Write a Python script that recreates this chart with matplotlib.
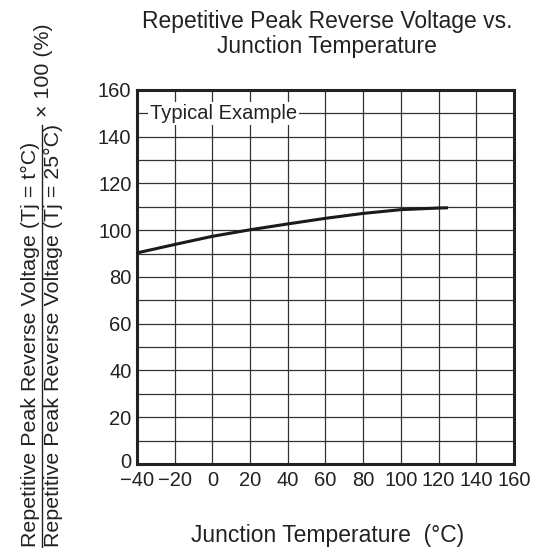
import matplotlib
matplotlib.use('Agg')
import matplotlib.pyplot as plt
from matplotlib.lines import Line2D
from matplotlib.transforms import ScaledTranslation

plt.rcParams['font.family'] = ['Liberation Sans', 'DejaVu Sans']
plt.rcParams['axes.unicode_minus'] = True

temp = [-40, -20, 0, 20, 40, 60, 80, 100, 120, 125]
ratio = [90.3, 93.9, 97.4, 100.2, 102.7, 105.1, 107.2, 108.8, 109.5, 109.6]

xticks = [-40, -20, 0, 20, 40, 60, 80, 100, 120, 140, 160]
yticks = [0, 20, 40, 60, 80, 100, 120, 140, 160]

fig = plt.figure(figsize=(5.41, 5.48), dpi=100)
ax = fig.add_axes([0.2532, 0.1533, 0.6969, 0.6825])

ax.plot(temp, ratio, color='#1a1a1a', lw=2.2, solid_capstyle='butt', zorder=3)

ax.set_xlim(-40, 160)
ax.set_ylim(0, 160)
ax.set_xticks(xticks)
ax.set_yticks(yticks)
ax.set_yticks(range(0, 161, 10), minor=True)
ax.grid(True, which='both', color='#333333', lw=0.9)
ax.tick_params(which='both', length=0, labelsize=14.5, colors='#222222')
ax.tick_params(axis='x', pad=5)
ax.tick_params(axis='y', pad=4)
for s in ax.spines.values():
    s.set_linewidth(2.2)
    s.set_color('#222222')

# nudge the "0" label up a little so it clears the x labels
lbl0 = ax.get_yticklabels()[0]
lbl0.set_transform(lbl0.get_transform() + ScaledTranslation(0, 0.03, fig.dpi_scale_trans))

ax.text(-33, 150, 'Typical Example', fontsize=14.5, va='center', ha='left',
        color='#222222', zorder=4,
        bbox=dict(facecolor='white', edgecolor='none', pad=1.5))

fig.text(0.605, 0.9489, 'Repetitive Peak Reverse Voltage vs.', ha='center',
         va='baseline', fontsize=16.5, color='#222222')
fig.text(0.605, 0.9033, 'Junction Temperature', ha='center',
         va='baseline', fontsize=16.5, color='#222222')
fig.text(0.605, 0.0115, 'Junction Temperature  (°C)', ha='center', va='baseline',
         fontsize=16.5, color='#222222')

# y label as a fraction
fig.text(0.0555, 0.002, 'Repetitive Peak Reverse Voltage (Tj = t°C)', rotation=90,
         ha='center', va='bottom', fontsize=15.4, color='#222222')
fig.text(0.098, 0.002, 'Repetitive Peak Reverse Voltage (Tj = 25°C)', rotation=90,
         ha='center', va='bottom', fontsize=15.4, color='#222222')
fig.add_artist(Line2D([0.0776, 0.0776], [0.0, 0.772], color='#222222', lw=1.0))
fig.text(0.0795, 0.786, '× 100 (%)', rotation=90, ha='center', va='bottom',
         fontsize=15.4, color='#222222')

fig.savefig('out.png', dpi=100)
